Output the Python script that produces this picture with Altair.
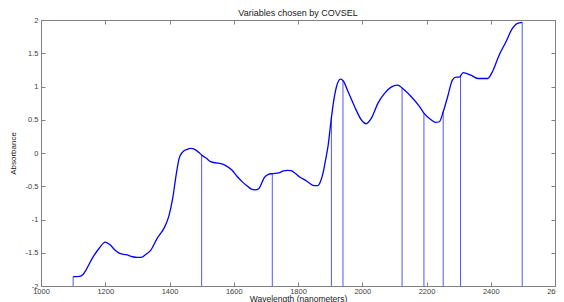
import altair as alt
import pandas as pd

# Spectrum (wavelength in nm, absorbance)
wavelength = [1100, 1120, 1130, 1140, 1160, 1180, 1200, 1215, 1230, 1245, 1265, 1285,
              1300, 1315, 1325, 1342, 1362, 1383, 1398, 1410, 1420, 1430, 1440, 1455,
              1466, 1480, 1491, 1500, 1515, 1528, 1545, 1560, 1575, 1595, 1610, 1626,
              1640, 1652, 1667, 1679, 1688, 1695, 1708, 1720, 1740, 1755, 1766, 1778,
              1790, 1806, 1820, 1832, 1850, 1862, 1870, 1878, 1886, 1894, 1902, 1910,
              1920, 1932, 1940, 1956, 1976, 1997, 2012, 2028, 2049, 2070, 2090, 2110,
              2126, 2152, 2178, 2192, 2214, 2228, 2240, 2252, 2266, 2281, 2292, 2302,
              2314, 2338, 2360, 2390, 2406, 2426, 2447, 2467, 2483, 2498]
absorbance = [-1.86, -1.855, -1.83, -1.76, -1.58, -1.44, -1.34, -1.38, -1.46, -1.51, -1.53, -1.56,
              -1.57, -1.565, -1.53, -1.46, -1.28, -1.13, -0.95, -0.68, -0.35, -0.08, 0.01, 0.055,
              0.07, 0.05, 0.01, -0.03, -0.08, -0.13, -0.15, -0.16, -0.19, -0.26, -0.35, -0.43,
              -0.49, -0.535, -0.556, -0.53, -0.44, -0.37, -0.32, -0.31, -0.30, -0.27, -0.26, -0.265,
              -0.30, -0.365, -0.40, -0.44, -0.49, -0.49, -0.43, -0.30, -0.10, 0.12, 0.45, 0.75,
              1.00, 1.11, 1.09, 0.92, 0.70, 0.50, 0.44, 0.52, 0.75, 0.90, 0.99, 1.02,
              0.97, 0.85, 0.70, 0.60, 0.50, 0.46, 0.47, 0.62, 0.85, 1.10, 1.14, 1.14,
              1.21, 1.17, 1.12, 1.12, 1.23, 1.47, 1.67, 1.87, 1.95, 1.965]

# Variables chosen by COVSEL
selected_wl = [1100, 1500, 1720, 1904, 1940, 2124, 2192, 2252, 2306, 2498]
selected_abs = [-1.86, -0.03, -0.31, 0.53, 1.09, 0.98, 0.60, 0.62, 1.16, 1.965]

x_ticks = [1000, 1200, 1400, 1600, 1800, 2000, 2200, 2400, 2600]
y_ticks = [-2, -1.5, -1, -0.5, 0, 0.5, 1, 1.5, 2]
x_domain = [1000, 2600]
y_domain = [-2, 2]

spec = pd.DataFrame({"wl": wavelength, "abs": absorbance})
sel = pd.DataFrame({"wl": selected_wl, "abs": selected_abs,
                    "base": [y_domain[0]] * len(selected_wl)})

FONT = "Liberation Sans"
LABEL = "#404040"
FRAME = "#808080"

xscale = alt.Scale(domain=x_domain, nice=False, zero=False)
yscale = alt.Scale(domain=y_domain, nice=False, zero=False)

line = alt.Chart(spec).mark_line(color="#0000ff", strokeWidth=1.3, interpolate="monotone").encode(
    x=alt.X("wl:Q", scale=xscale,
            axis=alt.Axis(orient="bottom", values=x_ticks, title="Wavelength (nanometers)",
                          offset=-4, tickSize=4, domain=False, grid=False,
                          labelPadding=1, titlePadding=0, labelFlush=False,
                          labelExpr="'' + datum.value",
                          labelFont=FONT, labelFontSize=7.5, labelColor=LABEL,
                          titleFont=FONT, titleFontSize=8.5, titleFontWeight="normal",
                          titleColor="#202020", tickColor=FRAME)),
    y=alt.Y("abs:Q", scale=yscale,
            axis=alt.Axis(orient="left", values=y_ticks, title="Absorbance",
                          offset=-4, tickSize=4, domain=False, grid=False,
                          labelPadding=3, titlePadding=8, labelFlush=False,
                          labelExpr="'' + datum.value",
                          labelFont=FONT, labelFontSize=7.5, labelColor=LABEL,
                          titleFont=FONT, titleFontSize=8, titleFontWeight="normal",
                          titleColor="#202020", tickColor=FRAME)),
)

rules = alt.Chart(sel).mark_rule(color="#2a2aff", strokeWidth=1, opacity=0.8).encode(
    x=alt.X("wl:Q", scale=xscale,
            axis=alt.Axis(orient="top", values=x_ticks, title=None, labels=False,
                          offset=-4, tickSize=4, domain=False, grid=False, tickColor=FRAME)),
    y=alt.Y("base:Q", scale=yscale,
            axis=alt.Axis(orient="right", values=y_ticks, title=None, labels=False,
                          offset=-4, tickSize=4, domain=False, grid=False, tickColor=FRAME)),
    y2=alt.Y2("abs:Q"),
)

chart = alt.layer(rules, line).resolve_axis(x="independent", y="independent").properties(
    width=514,
    height=266,
    title=alt.TitleParams("Variables chosen by COVSEL", font=FONT, fontSize=9,
                          fontWeight="normal", color="#202020", offset=1, dy=3),
    autosize=alt.AutoSizeParams(type="none"),
    padding={"left": 33, "top": 12, "right": 1, "bottom": 16},
).configure_view(stroke=FRAME, strokeWidth=1)

chart.save("out.html", embed_options={"renderer": "svg", "actions": False})
